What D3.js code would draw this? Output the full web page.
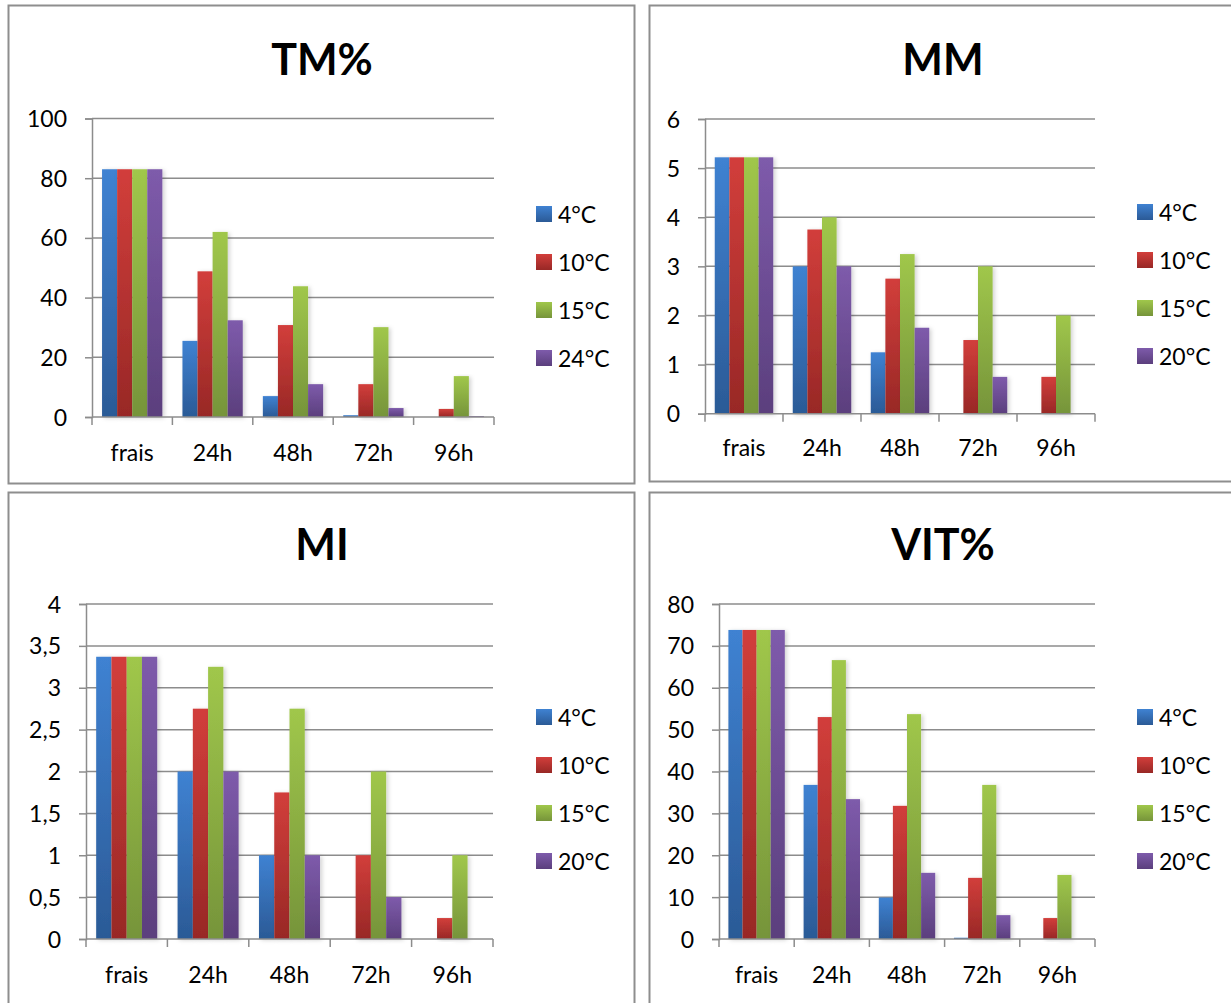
<!DOCTYPE html>
<html><head><meta charset="utf-8">
<script src="https://cdn.jsdelivr.net/npm/d3@7"></script>
<style>
html,body{margin:0;padding:0;background:#fff;}
svg{display:block;}
text{font-family:Lato,"Open Sans",sans-serif;fill:#000;}
</style></head><body>
<svg id="c" width="1231" height="1003"></svg>
<script>
// ---- data ----
const categories = ["frais", "24h", "48h", "72h", "96h"];
const seriesTM  = ["4°C", "10°C", "15°C", "24°C"];
const seriesOther = ["4°C", "10°C", "15°C", "20°C"];

const tmValues = [            // TM%
  [83, 25.5, 7.0, 0.6, 0],     // 4°C
  [83, 48.8, 30.8, 11, 2.7],   // 10°C
  [83, 62, 43.8, 30.1, 13.7],  // 15°C
  [83, 32.4, 11, 3.0, 0.3]     // 24°C
];
const mmValues = [            // MM
  [5.22, 3.0, 1.25, 0, 0],
  [5.22, 3.75, 2.75, 1.5, 0.75],
  [5.22, 4.0, 3.25, 3.0, 2.0],
  [5.22, 3.0, 1.75, 0.75, 0]
];
const miValues = [            // MI
  [3.37, 2.0, 1.0, 0, 0],
  [3.37, 2.75, 1.75, 1.0, 0.25],
  [3.37, 3.25, 2.75, 2.0, 1.0],
  [3.37, 2.0, 1.0, 0.5, 0]
];
const vitValues = [           // VIT%
  [73.8, 36.8, 9.9, 0.3, 0],
  [73.8, 53.0, 31.8, 14.6, 5.0],
  [73.8, 66.6, 53.7, 36.8, 15.3],
  [73.8, 33.4, 15.8, 5.7, 0]
];
const tmTicks  = [0, 20, 40, 60, 80, 100];
const mmTicks  = [0, 1, 2, 3, 4, 5, 6];
const miTicks  = [0, 0.5, 1, 1.5, 2, 2.5, 3, 3.5, 4];
const vitTicks = [0, 10, 20, 30, 40, 50, 60, 70, 80];

const colors = [
  ["#3f82d2", "#2b5a96"],
  ["#d23e3b", "#982826"],
  ["#a0c74b", "#76943a"],
  ["#7e5bab", "#5b3f7d"]
];

const fr = d3.formatLocale({decimal: ",", thousands: " ", grouping: [3], currency: ["", "€"]});
const fmt = fr.format("~g");

// ---- layout ----
const panels = [
  {title: "TM%",  values: tmValues,  series: seriesTM,    ticks: tmTicks,
   box: [8.5, 5.5, 626, 478], plot: [92, 118.5, 494, 417], titleX: 322, titleY: 58, xLabY: 452, leg: [536, 214]},
  {title: "MM",   values: mmValues,  series: seriesOther, ticks: mmTicks,
   box: [649.5, 5.5, 620, 476], plot: [705, 119, 1095, 413.7], titleX: 943, titleY: 58, xLabY: 447, leg: [1137, 212]},
  {title: "MI",   values: miValues,  series: seriesOther, ticks: miTicks,
   box: [8.5, 492.5, 626, 600], plot: [86, 604, 493, 939], titleX: 322, titleY: 543, xLabY: 974, leg: [536, 717]},
  {title: "VIT%", values: vitValues, series: seriesOther, ticks: vitTicks,
   box: [649.5, 492.5, 620, 600], plot: [719, 604, 1095, 939], titleX: 943, titleY: 543, xLabY: 974, leg: [1137, 717]}
];

const svg = d3.select("#c");
svg.append("rect").attr("width", 1231).attr("height", 1003).attr("fill", "#fff");

const defs = svg.append("defs");
colors.forEach((c, i) => {
  const g = defs.append("linearGradient").attr("id", "g" + i)
    .attr("x1", 0).attr("y1", 0).attr("x2", 0).attr("y2", 1);
  g.append("stop").attr("offset", "0%").attr("stop-color", c[0]);
  g.append("stop").attr("offset", "100%").attr("stop-color", c[1]);
});
const f = defs.append("filter").attr("id", "sh").attr("x", "-20%").attr("y", "-5%").attr("width", "160%").attr("height", "115%");
f.append("feDropShadow").attr("dx", 2).attr("dy", 1).attr("stdDeviation", 2).attr("flood-color", "#000").attr("flood-opacity", 0.18);

const grid = "#8c8c8c";
const FS = 23;

panels.forEach(p => {
  const g = svg.append("g");
  g.append("rect").attr("x", p.box[0]).attr("y", p.box[1]).attr("width", p.box[2]).attr("height", p.box[3])
    .attr("fill", "#fff").attr("stroke", "#8e8e8e").attr("stroke-width", 2);

  const [L, T, R, B] = p.plot;
  const ymax = p.ticks[p.ticks.length - 1];
  const y = d3.scaleLinear().domain([0, ymax]).range([B, T]);
  const x0 = d3.scaleBand().domain(categories).range([L, R]).padding(0);
  const bw = x0.bandwidth();
  const x1 = d3.scaleBand().domain(d3.range(p.series.length)).range([0, bw * 0.75]).padding(0);

  // title
  g.append("text").attr("x", p.titleX).attr("y", p.titleY)
    .attr("text-anchor", "middle").attr("dominant-baseline", "central")
    .attr("font-weight", "bold").attr("font-size", 43).text(p.title);

  // gridlines
  g.append("g").selectAll("line").data(p.ticks.filter(t => t > 0)).join("line")
    .attr("x1", L).attr("x2", R).attr("y1", d => y(d)).attr("y2", d => y(d))
    .attr("stroke", grid).attr("stroke-width", 1.5);

  // y axis
  const ya = g.append("g").attr("transform", `translate(${L},0)`)
    .call(d3.axisLeft(y).tickValues(p.ticks).tickFormat(fmt).tickSize(7).tickPadding(18));
  ya.select(".domain").attr("stroke", grid).attr("stroke-width", 1.5);
  ya.selectAll(".tick line").attr("stroke", grid).attr("stroke-width", 1.5);
  ya.selectAll(".tick text").attr("font-size", FS).attr("font-family", "Lato").attr("fill", "#000").attr("dy", "0.35em");

  // bars
  const bars = g.append("g");
  p.series.forEach((s, si) => {
    bars.selectAll(null).data(p.values[si].map((v, ci) => ({v, c: categories[ci]}))).join("rect")
      .attr("x", d => x0(d.c) + bw * 0.125 + x1(si))
      .attr("width", x1.bandwidth())
      .attr("y", d => y(d.v))
      .attr("height", d => Math.max(0, B - y(d.v)))
      .attr("fill", `url(#g${si})`)
      .attr("filter", d => d.v > 0 ? "url(#sh)" : null);
  });

  // x axis
  const xa = g.append("g").attr("transform", `translate(0,${B})`);
  xa.append("line").attr("x1", L).attr("x2", R).attr("stroke", grid).attr("stroke-width", 1.5);
  const bounds = categories.map(c => x0(c)).concat([R]);
  xa.selectAll("line.tk").data(bounds).join("line").attr("class", "tk")
    .attr("x1", d => d).attr("x2", d => d).attr("y1", 0).attr("y2", 8)
    .attr("stroke", grid).attr("stroke-width", 1.5);
  g.append("g").selectAll("text").data(categories).join("text")
    .attr("x", d => x0(d) + bw / 2).attr("y", p.xLabY)
    .attr("text-anchor", "middle").attr("dominant-baseline", "central")
    .attr("font-size", FS).text(d => d);

  // legend
  const lg = g.append("g");
  p.series.forEach((s, si) => {
    const cy = p.leg[1] + si * 48;
    lg.append("rect").attr("x", p.leg[0]).attr("y", cy - 8).attr("width", 16).attr("height", 16)
      .attr("fill", `url(#g${si})`);
    lg.append("text").attr("x", p.leg[0] + 22).attr("y", cy).attr("dominant-baseline", "central")
      .attr("font-size", FS).text(s);
  });
});
</script>
</body></html>
